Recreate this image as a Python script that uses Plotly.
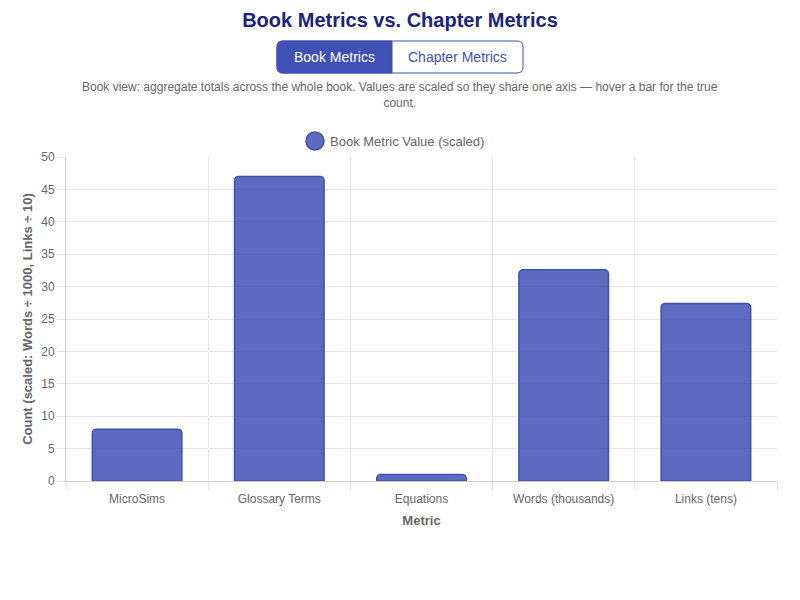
import plotly.graph_objects as go

categories = ["MicroSims", "Glossary Terms", "Equations", "Words (thousands)", "Links (tens)"]
scaled_values = [8, 47, 1, 32.6, 27.4]
true_counts = [8, 47, 1, 32600, 274]

W, H = 800, 600
L, R, T, B = 66, 23, 157, 119
PW, PH = W - L - R, H - T - B

def px(x):
    return (x - L) / PW

def py(y):
    return (H - B - y) / PH

FONT = "Helvetica Neue, Helvetica, Arial, Liberation Sans, sans-serif"
BLUE = "#3f51b5"

fig = go.Figure()
fig.add_trace(go.Bar(
    x=categories, y=scaled_values, customdata=true_counts,
    marker=dict(color="rgba(63,81,181,0.85)", line=dict(color=BLUE, width=1.5), cornerradius=4),
    hovertemplate="%{x}: %{customdata}<extra></extra>",
    showlegend=False,
))

def rounded_path(x0, y0, x1, y1, rl, rr):
    p = f"M {px(x0 + rl)},{py(y0)} L {px(x1 - rr)},{py(y0)} "
    if rr:
        p += f"Q {px(x1)},{py(y0)} {px(x1)},{py(y0 + rr)} "
    p += f"L {px(x1)},{py(y1 - rr)} "
    if rr:
        p += f"Q {px(x1)},{py(y1)} {px(x1 - rr)},{py(y1)} "
    p += f"L {px(x0 + rl)},{py(y1)} "
    if rl:
        p += f"Q {px(x0)},{py(y1)} {px(x0)},{py(y1 - rl)} "
    p += f"L {px(x0)},{py(y0 + rl)} "
    if rl:
        p += f"Q {px(x0)},{py(y0)} {px(x0 + rl)},{py(y0)} "
    p += "Z"
    return p

bx0, bx1, bmid, by0, by1 = 277, 523, 392, 41, 73
shapes = [
    dict(type="path", xref="paper", yref="paper", path=rounded_path(bx0, by0, bx1, by1, 6, 6),
         fillcolor="white", line=dict(color=BLUE, width=1)),
    dict(type="path", xref="paper", yref="paper", path=rounded_path(bx0, by0, bmid, by1, 6, 0),
         fillcolor=BLUE, line=dict(color=BLUE, width=1)),
    dict(type="circle", xref="paper", yref="paper", x0=px(306), x1=px(324), y0=py(132), y1=py(150),
         fillcolor="rgba(63,81,181,0.85)", line=dict(color=BLUE, width=1.5)),
]

annotations = [
    dict(text="Book Metrics", x=px((bx0 + bmid) / 2), y=py((by0 + by1) / 2), xref="paper", yref="paper",
         showarrow=False, font=dict(family=FONT, size=14, color="white"), xanchor="center", yanchor="middle"),
    dict(text="Chapter Metrics", x=px((bmid + bx1) / 2), y=py((by0 + by1) / 2), xref="paper", yref="paper",
         showarrow=False, font=dict(family=FONT, size=14, color=BLUE), xanchor="center", yanchor="middle"),
    dict(text="Book view: aggregate totals across the whole book. Values are scaled so they share one axis — hover a bar for the true<br>count.",
         x=px(400), y=py(95), xref="paper", yref="paper", showarrow=False,
         font=dict(family=FONT, size=12, color="#666"), xanchor="center", yanchor="middle", align="center"),
    dict(text="Book Metric Value (scaled)", x=px(328), y=py(141.5), xref="paper", yref="paper", showarrow=False,
         font=dict(family=FONT, size=13, color="#666"), xanchor="left", yanchor="middle"),
]

fig.update_layout(
    width=W, height=H,
    margin=dict(l=L, r=R, t=T, b=B),
    paper_bgcolor="white", plot_bgcolor="white",
    font=dict(family=FONT, size=12, color="#666"),
    title=dict(text="<b>Book Metrics vs. Chapter Metrics</b>", x=0.5, xanchor="center",
               y=1 - 20 / H, yanchor="middle", yref="container",
               font=dict(family=FONT, size=20, color="#1a237e")),
    bargap=0.37,
    shapes=shapes,
    annotations=annotations,
    xaxis=dict(
        tickson="boundaries", showgrid=True, gridcolor="#e5e5e5", gridwidth=1,
        ticks="outside", ticklen=8, tickcolor="#e5e5e5", ticklabelstandoff=7,
        showline=True, linecolor="#ccc", linewidth=1,
        tickfont=dict(family=FONT, size=12, color="#666"),
        title=dict(text="<b>Metric</b>", font=dict(family=FONT, size=13, color="#666"), standoff=10),
        fixedrange=True,
    ),
    yaxis=dict(
        range=[0, 50], dtick=5, showgrid=True, gridcolor="#e5e5e5", gridwidth=1,
        ticks="outside", ticklen=8, tickcolor="#e5e5e5",
        showline=True, linecolor="#ccc", linewidth=1, zeroline=False,
        tickfont=dict(family=FONT, size=12, color="#666"),
        title=dict(text="<b>Count (scaled: Words ÷ 1000, Links ÷ 10)</b>",
                   font=dict(family=FONT, size=13, color="#666"), standoff=5),
        fixedrange=True,
    ),
)

fig.write_html("out.html")
